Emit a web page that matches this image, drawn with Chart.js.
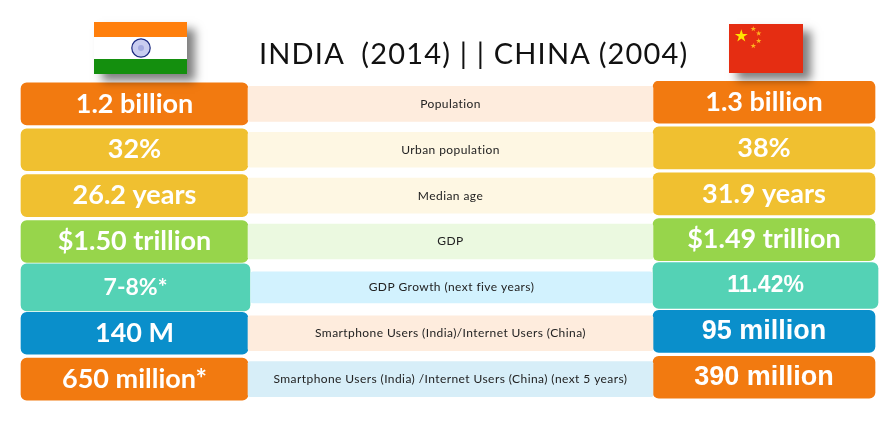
<!DOCTYPE html>
<html lang="en">
<head>
  <meta charset="UTF-8">
  <title>India (2014) | | China (2004)</title>
  <script src="https://cdn.jsdelivr.net/npm/chart.js"></script>
  <style>
    body { margin: 0; background: #fff; width: 896px; height: 441px; position: relative; overflow: hidden; }
    canvas { position: absolute; left: 0; top: 0; }
    h1 { position: absolute; left: 259px; top: 34px; margin: 0; font: 400 29px/38px Lato, sans-serif; letter-spacing: 1.18px; color: #111; white-space: pre; }
    .flag { position: absolute; box-shadow: 8px 7px 9px rgba(0,0,0,.5); display: block; }
  </style>
</head>
<body>
  <canvas id="graphique" width="896" height="441"></canvas>
  <h1>INDIA  (2014) | | CHINA (2004)</h1>

  <svg class="flag" style="left:94px;top:22px" width="93" height="52" viewBox="0 0 93 52">
    <rect width="93" height="52" fill="#fff"/>
    <rect width="93" height="15" fill="#ff7f0c"/>
    <rect y="37" width="93" height="15" fill="#148f0e"/>
    <circle cx="47" cy="26" r="9.2" fill="#c9cdf0" stroke="#1c2a80" stroke-width="1.2"/>
    <circle cx="47" cy="26" r="3" fill="#a5abe0"/>
  </svg>
  <svg class="flag" style="left:729px;top:24px" width="74" height="49" viewBox="0 0 74 49">
    <defs><polygon id="star" points="0,-1 .225,-.309 .951,-.309 .363,.118 .588,.809 0,.382 -.588,.809 -.363,.118 -.951,-.309 -.225,-.309"/></defs>
    <rect width="74" height="49" fill="#e52d12"/>
    <use href="#star" transform="translate(12.3 12) scale(6.8)" fill="#ffe400"/>
    <use href="#star" transform="translate(24.3 4.8) scale(2.9)" fill="#ffb41e"/>
    <use href="#star" transform="translate(29.7 9.4) scale(2.9)" fill="#ffb41e"/>
    <use href="#star" transform="translate(29.7 16.8) scale(2.9)" fill="#ffb41e"/>
    <use href="#star" transform="translate(24.3 21.8) scale(2.9)" fill="#ffb41e"/>
  </svg>

  <script>
    const indicateurs = ["Population", "Urban population", "Median age", "GDP", "GDP Growth (next five years)", "Smartphone Users (India)/Internet Users (China)", "Smartphone Users (India) /Internet Users (China) (next 5 years)"];
    const valeursInde = ["1.2 billion", "32%", "26.2 years", "$1.50 trillion", "7-8%*", "140 M", "650 million*"];
    const valeursChine = ["1.3 billion", "38%", "31.9 years", "$1.49 trillion", "11.42%", "95 million", "390 million"];

    const couleurs = ["#f27a10", "#f0c030", "#f0c030", "#97d54b", "#54d2b5", "#0a8fcb", "#f27a10"];
    const teintes = ["#feecdd", "#fef7e3", "#fef7e3", "#ebf9e0", "#d2f2fe", "#feecdd", "#d7eef8"];

    // the row that is taller on both sides, and narrower in the middle
    const ligneHaute = 4;
    const lignes = indicateurs.map((_, i) => i);
    const normales = lignes.filter(i => i !== ligneHaute);

    const policeInde = i => i === ligneHaute ? "bold 23px Lato" : "bold 27px Lato";
    const policeChine = i => i === ligneHaute ? "bold 23px 'Liberation Sans'" : i > ligneHaute ? "bold 27px 'Liberation Sans'" : "bold 27px Lato";
    const policeMilieu = () => "12px Lato";

    function colonne(rangs, debut, fin, epaisseur, fond, rayon, axe, textes, police) {
      const petit = rayon <= 3;
      return {
        data: rangs.map(i => ({ x: [debut, fin], y: i })),
        backgroundColor: rangs.map(i => fond[i]),
        barThickness: epaisseur,
        borderRadius: rayon,
        borderSkipped: false,
        yAxisID: axe,
        textes: rangs.map(i => textes[i]),
        polices: rangs.map(police),
        couleurTexte: petit ? "#222" : "#fff",
        espacement: petit ? "0.42px" : "0px"
      };
    }

    const textesBarres = {
      id: "textesBarres",
      afterDatasetsDraw(chart) {
        const ctx = chart.ctx;
        ctx.save();
        ctx.textAlign = "center";
        ctx.textBaseline = "middle";
        chart.data.datasets.forEach((ds, d) => {
          chart.getDatasetMeta(d).data.forEach((barre, i) => {
            const p = barre.getCenterPoint();
            ctx.font = ds.polices[i];
            ctx.letterSpacing = ds.espacement;
            ctx.fillStyle = ds.couleurTexte;
            ctx.fillText(ds.textes[i], p.x, p.y);
          });
        });
        ctx.restore();
      }
    };

    new Chart(document.getElementById("graphique"), {
      type: "bar",
      data: {
        datasets: [
          colonne(normales, 248, 653, 35, teintes, 2, "y", indicateurs, policeMilieu),
          colonne([ligneHaute], 251, 652, 31, teintes, 2, "y", indicateurs, policeMilieu),
          colonne(normales, 21, 248, 42, couleurs, 6, "y", valeursInde, policeInde),
          colonne([ligneHaute], 21, 250, 47, couleurs, 6, "y", valeursInde, policeInde),
          colonne(normales, 653, 875, 42, couleurs, 6, "yChine", valeursChine, policeChine),
          colonne([ligneHaute], 653, 878, 46, couleurs, 6, "yChine", valeursChine, policeChine)
        ]
      },
      options: {
        indexAxis: "y",
        responsive: false,
        animation: false,
        layout: { padding: { top: 81, bottom: 39 } },
        datasets: { bar: { grouped: false } },
        plugins: { legend: { display: false }, tooltip: { enabled: false } },
        scales: {
          x: { type: "linear", min: 0, max: 896, display: false },
          y: { type: "linear", min: -0.5, max: 6.5, reverse: true, offset: false, display: false },
          yChine: { type: "linear", min: -0.46, max: 6.54, reverse: true, offset: false, display: false }
        }
      },
      plugins: [textesBarres]
    });
  </script>
</body>
</html>
